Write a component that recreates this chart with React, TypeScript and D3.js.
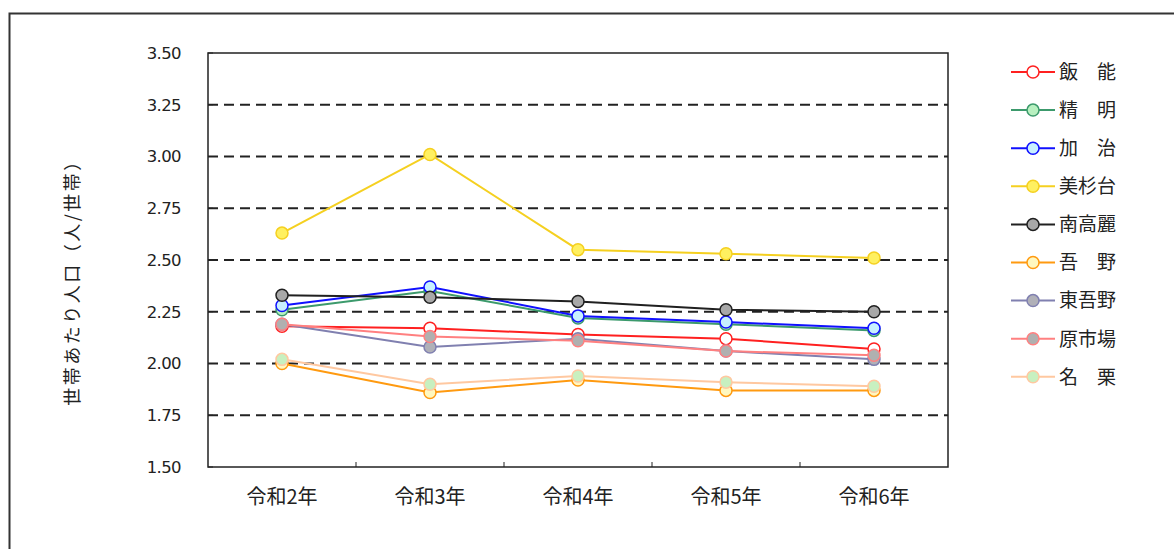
import React from "react";
import * as d3 from "d3";

const categories = ["令和2年", "令和3年", "令和4年", "令和5年", "令和6年"];
const yTicks = [1.5, 1.75, 2.0, 2.25, 2.5, 2.75, 3.0, 3.25, 3.5];

const hanno = [2.18, 2.17, 2.14, 2.12, 2.07];
const seimei = [2.26, 2.35, 2.22, 2.19, 2.16];
const kaji = [2.28, 2.37, 2.23, 2.2, 2.17];
const misugidai = [2.63, 3.01, 2.55, 2.53, 2.51];
const minamikoma = [2.33, 2.32, 2.3, 2.26, 2.25];
const agano = [2.0, 1.86, 1.92, 1.87, 1.87];
const higashiagano = [2.19, 2.08, 2.12, 2.06, 2.02];
const haraichiba = [2.19, 2.13, 2.11, 2.06, 2.04];
const naguri = [2.02, 1.9, 1.94, 1.91, 1.89];

const seriesNames = ["飯\u3000能", "精\u3000明", "加\u3000治", "美杉台", "南高麗", "吾\u3000野", "東吾野", "原市場", "名\u3000栗"];
const seriesValues = [hanno, seimei, kaji, misugidai, minamikoma, agano, higashiagano, haraichiba, naguri];
const lineColors = ["#ff2020", "#3c9a6c", "#1010ff", "#f5d020", "#202020", "#ff9a10", "#8080b0", "#ff8080", "#ffc8a0"];
const fillColors = ["#ffffff", "#b8f0c0", "#c8f0ff", "#fff060", "#a8a8a8", "#fff8c0", "#b0b0b8", "#b0b0b0", "#c8f0c0"];

export default function App() {
  const W = 1174, H = 549;
  const left = 208, right = 948, top = 53, bottom = 467;
  const x = d3.scaleBand<string>().domain(categories).range([left, right]);
  const y = d3.scaleLinear().domain([1.5, 3.5]).range([bottom, top]);
  const line = d3.line<number>().x((_, i) => x(categories[i])! + x.bandwidth() / 2).y((d) => y(d));
  const font = "'Noto Sans CJK JP', 'DejaVu Sans', sans-serif";

  return (
    <svg width={W} height={H} style={{ position: "absolute", left: 0, top: 0 }} fontFamily={font}>
      <rect x={0} y={0} width={W} height={H} fill="#fff" />
      <rect x={9.5} y={13.5} width={1180} height={560} fill="none" stroke="#333" strokeWidth={2} />
      {yTicks.filter((t) => t > 1.5 && t < 3.5).map((t) => (
        <line key={t} x1={left} x2={right} y1={y(t)} y2={y(t)} stroke="#222" strokeWidth={2} strokeDasharray="10,6" />
      ))}
      <rect x={left} y={top} width={right - left} height={bottom - top} fill="none" stroke="#222" strokeWidth={1.5} />
      {yTicks.map((t) => (
        <g key={t}>
          <line x1={left} x2={left + 5} y1={y(t)} y2={y(t)} stroke="#222" />
          <text x={181} y={y(t)} dy="0.36em" textAnchor="end" fontSize={16.5} fontFamily="'DejaVu Sans', sans-serif" letterSpacing={-0.6} fill="#222">{t.toFixed(2)}</text>
        </g>
      ))}
      {categories.map((c, i) => (
        <g key={c}>
          {i > 0 && <line x1={x(c)!} x2={x(c)!} y1={bottom} y2={bottom - 5} stroke="#222" />}
          <text x={x(c)! + x.bandwidth() / 2} y={497} dy="0.36em" textAnchor="middle" fontSize={20} fill="#222">{c}</text>
        </g>
      ))}
      <text transform={`translate(73,${(top + bottom) / 2 + 18}) rotate(-90)`} dy="0.36em" textAnchor="middle" fontSize={18} letterSpacing={2.5} fill="#222">世帯あたり人口（人/世帯）</text>
      {seriesValues.map((vals, si) => (
        <g key={si}>
          <path d={line(vals)!} fill="none" stroke={lineColors[si]} strokeWidth={2} />
          {vals.map((v, i) => (
            <circle key={i} cx={x(categories[i])! + x.bandwidth() / 2} cy={y(v)} r={6} fill={fillColors[si]} stroke={lineColors[si]} strokeWidth={1.5} />
          ))}
        </g>
      ))}
      {seriesNames.map((n, i) => {
        const ly = 72 + i * 38.1;
        return (
          <g key={n}>
            <line x1={1011} x2={1055} y1={ly} y2={ly} stroke={lineColors[i]} strokeWidth={2} />
            <circle cx={1033} cy={ly} r={6} fill={fillColors[i]} stroke={lineColors[i]} strokeWidth={1.5} />
            <text x={1059} y={ly} dy="0.36em" fontSize={19} fill="#222">{n}</text>
          </g>
        );
      })}
    </svg>
  );
}
